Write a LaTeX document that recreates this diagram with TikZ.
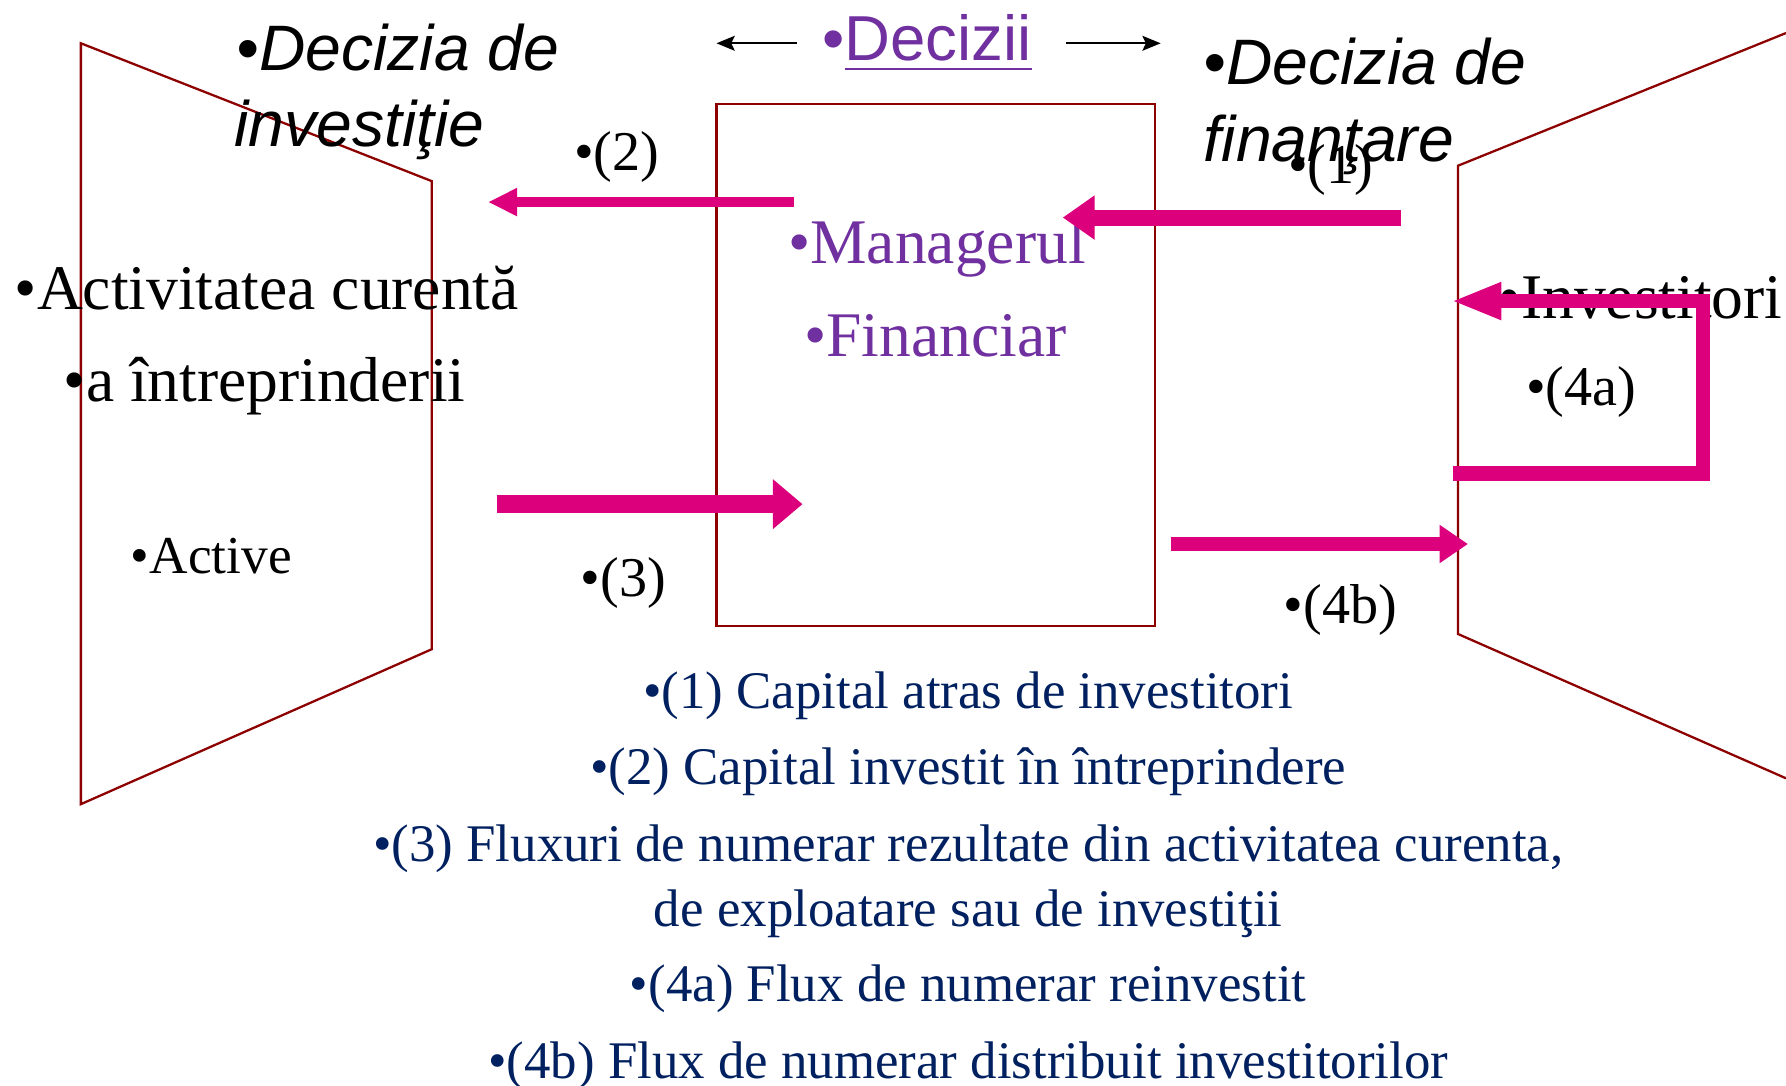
\documentclass[tikz,border=0pt]{standalone}
\usepackage{fontspec}
\setmainfont{Liberation Serif}
\setsansfont{Liberation Sans}
\usetikzlibrary{arrows.meta}
\definecolor{frame}{RGB}{140,0,0}
\definecolor{flow}{RGB}{220,0,125}
\definecolor{purp}{RGB}{112,48,160}
\definecolor{navy}{RGB}{0,32,96}
\newcommand{\fsz}[1]{\fontsize{#1}{#1}\selectfont}
\begin{document}
\begin{tikzpicture}[x=1bp,y=-1bp,
  every node/.style={inner sep=0pt,outer sep=0pt},
  frameline/.style={draw=frame,line width=2bp,line join=miter},
  lbl/.style={anchor=base west},
  dectext/.style={lbl,font=\sffamily\itshape\fsz{56.6}},
  bigtext/.style={lbl,font=\fsz{56}},
  numtext/.style={lbl,font=\fsz{49.5}},
  legtext/.style={anchor=base,font=\fsz{46.6},text=navy},
  thinarrow/.style={draw=black,line width=2bp,-{Stealth[length=16bp,width=13bp,inset=3bp]}},
  flowarrow/.style={draw=flow,line cap=butt,line join=miter}
]
\useasboundingbox (0,0) rectangle (1568,953);

% shapes
\draw[frameline] (71,38) -- (379,159) -- (379,570) -- (71,706) -- cycle;
\draw[frameline] (629,91.3) rectangle (1014,549.6);
\draw[frameline] (1568,29) -- (1280,145.5) -- (1280,556.6) -- (1568,683.3);

% top texts
\node[dectext] (dinv1) at (208,61.5) {•Decizia de};
\node[dectext] (dinv2) at (206,128.8) {investiţie};
\node[lbl,font=\sffamily\fsz{56},text=purp] (decb) at (722,52.7) {•};
\node[lbl,font=\sffamily\fsz{56},text=purp] (dec) at (decb.base east) {Decizii};
\draw[purp,line width=1.8bp] ([yshift=-8bp]dec.base west) -- ([yshift=-8bp]dec.base east);
\coordinate (dl1) at (700,38);
\coordinate (dl2) at (629,38);
\coordinate (dr1) at (936,38);
\coordinate (dr2) at (1019,38);
\draw[thinarrow] (dl1) -- (dl2);
\draw[thinarrow] (dr1) -- (dr2);
\node[dectext] (dfin1) at (1057,73.8) {•Decizia de};
\node[dectext] (dfin2) at (1057,142) {finanţare};

% inner texts
\node[bigtext,text=purp] (mgr) at (692,231) {•Managerul};
\node[bigtext,text=purp] (fin) at (706,313) {•Financiar};
\node[bigtext] (act1) at (13,272) {•Activitatea curentă};
\node[bigtext] (act2) at (56,352.7) {•a întreprinderii};
\node[bigtext] (inv) at (1316,279.5) {•Investitori};
\node[lbl,font=\fsz{47}] (actv) at (115,503.4) {•Active};

\node[numtext] (l1) at (1131,161) {•(1)};
\node[numtext] (l2) at (504,149.3) {•(2)};
\node[numtext] (l3) at (510,523.9) {•(3)};
\node[numtext] (l4a) at (1340,355.6) {•(4a)};
\node[numtext] (l4b) at (1127,547.3) {•(4b)};

% legend
\node[legtext] (g1) at (850,621.9) {•(1) Capital atras de investitori};
\node[legtext] (g2) at (850,689) {•(2) Capital investit în întreprindere};
\node[legtext] (g3) at (850,756.5) {•(3) Fluxuri de numerar rezultate din activitatea curenta,};
\node[legtext] (g3b) at (850,813) {de exploatare sau de investiţii};
\node[legtext] (g4a) at (850,879.4) {•(4a) Flux de numerar reinvestit};
\node[legtext] (g4b) at (850,946.7) {•(4b) Flux de numerar distribuit investitorilor};

% flow arrows
\coordinate (a2s) at (697,177.4);
\coordinate (a2e) at (428.4,177.4);
\draw[flowarrow,line width=9.3bp,-{Triangle[length=25.6bp,width=23bp]}] (a2s) -- (a2e);

\coordinate (a1s) at (1230,191);
\coordinate (a1e) at (933,191);
\draw[flowarrow,line width=14bp,-{Triangle[length=28bp,width=37bp]}] (a1s) -- (a1e);

\coordinate (a4s) at (1276,415.6);
\coordinate (a4c1) at (1495,415.6);
\coordinate (a4c2) at (1495,264.3);
\coordinate (a4e) at (1274,264.3);
\draw[flowarrow,line width=12.5bp,-{Triangle[length=44bp,width=30bp]}] (a4s) -- (a4c1) -- (a4c2) -- (a4e);

\coordinate (a3s) at (436,442.6);
\coordinate (a3e) at (704.6,442.6);
\draw[flowarrow,line width=16bp,-{Triangle[length=26bp,width=42bp]}] (a3s) -- (a3e);

\coordinate (a4bs) at (1028,477.6);
\coordinate (a4be) at (1288.8,477.6);
\draw[flowarrow,line width=11.7bp,-{Triangle[length=25bp,width=32bp]}] (a4bs) -- (a4be);
\end{tikzpicture}
\end{document}
